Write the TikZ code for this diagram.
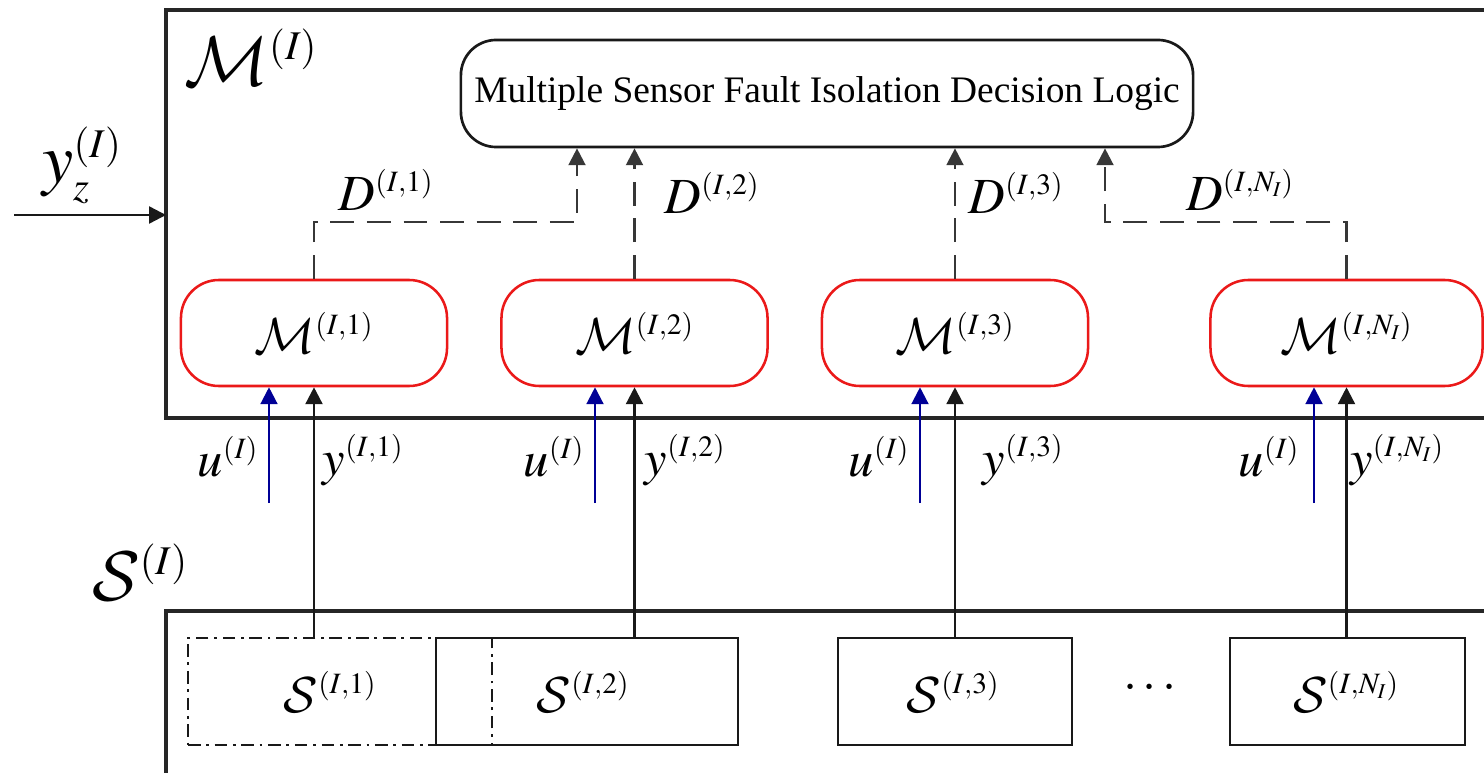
\RequirePackage{fix-cm}
\documentclass[tikz,border=0pt]{standalone}
\usepackage{mathptmx}
\usepackage[no-math]{fontspec}
\setmainfont{Liberation Serif}
\DeclareMathAlphabet{\mathcal}{OMS}{cmsy}{m}{n}
\DeclareMathSizes{36}{36}{21}{15}
\DeclareMathSizes{50}{50}{29}{21}
\usetikzlibrary{arrows.meta}
\definecolor{dred}{RGB}{235,25,25}
\definecolor{dblue}{RGB}{0,0,150}
\definecolor{dgray}{RGB}{55,55,55}
\newcommand\mfs{\fontsize{36}{40}\selectfont}
\newcommand\bfs{\fontsize{50}{56}\selectfont}
\newcommand\tfs{\fontsize{26.6}{30}\selectfont}
\tikzset{
  frame/.style={line width=2.2pt, draw=black!85},
  redbox/.style={draw=dred, line width=1.8pt, rounded corners=27pt, minimum width=6.65cm, minimum height=2.65cm, inner sep=0pt, font=\mfs},
  logicbox/.style={draw=black!90, line width=1.9pt, rounded corners=25pt, minimum width=18.3cm, minimum height=2.675cm, inner sep=0pt, font=\tfs},
  sbox/.style={draw=black!90, line width=1.8pt, minimum height=2.675cm, inner sep=0pt},
  sdash/.style={sbox, dash pattern=on 9pt off 4pt on 2pt off 4pt},
  lab/.style={inner sep=0pt, font=\mfs},
  biglab/.style={inner sep=0pt, font=\bfs},
  tip/.style={-{Triangle[length=12pt,width=12pt]}},
  yarrow/.style={tip, line width=1.7pt, draw=black!90},
  uarrow/.style={tip, line width=1.6pt, draw=dblue},
  darrow/.style={tip, line width=1.7pt, draw=dgray, dash pattern=on 17pt off 9pt},
}
\begin{document}
\begin{tikzpicture}[x=0.025cm, y=-0.025cm]
\useasboundingbox (0,0) rectangle (1484,773);
\fill[white] (0,0) rectangle (1484,773);
\clip (0,0) rectangle (1484,773);

% outer frames
\draw[frame] (1500,10) -- (166,10) -- (166,418) -- (1500,418);
\draw[frame] (1500,611) -- (166,611) -- (166,790);

\node[biglab] (MI) at (251,57) {$\mathcal{M}^{(I)}$};
\node[biglab] (SI) at (140,572) {$\mathcal{S}^{(I)}$};

% input y_z
\coordinate (yzs) at (14,215);
\coordinate (mIw) at (166,215);
\draw[yarrow] (yzs) -- (mIw);
\node[biglab] (yzlab) at (82,165) {$y_z^{(I)}$};

% decision logic
\node[logicbox] (DL) at (827,93.5) {Multiple Sensor Fault Isolation Decision Logic};

% red model boxes
\node[redbox] (M1) at (314,333) {$\mathcal{M}^{(I,1)}$};
\node[redbox] (M2) at (634.5,333) {$\mathcal{M}^{(I,2)}$};
\node[redbox] (M3) at (955,333) {$\mathcal{M}^{(I,3)}$};
\node[redbox, minimum width=6.8cm] (M4) at (1346.5,333) {$\mathcal{M}^{(I,N_I)}$};

% dashed decision arrows
\coordinate (d1) at (577,222);
\coordinate (d4) at (1105,222);
\draw[darrow] (M1.north) |- (d1) -- (d1 |- DL.south);
\draw[darrow] (M2.north) -- (M2.north |- DL.south);
\draw[darrow] (M3.north) -- (M3.north |- DL.south);
\draw[darrow] (M4.north) |- (d4) -- (d4 |- DL.south);
\node[lab] (D1) at (386,190) {$D^{(I,1)}$};
\node[lab] (D2) at (712,193) {$D^{(I,2)}$};
\node[lab] (D3) at (1016,193) {$D^{(I,3)}$};
\node[lab] (D4) at (1240,190) {$D^{(I,N_I)}$};

% sensor boxes
\node[sdash, minimum width=7.6cm] (S1) at (340,691.5) {};
\node[sbox, minimum width=7.55cm] (S2) at (587,691.5) {};
\node[sbox, minimum width=5.85cm] (S3) at (955,691.5) {};
\node[sbox, minimum width=5.875cm] (S4) at (1347.5,691.5) {};
\node[lab] (S1t) at (330,692) {$\mathcal{S}^{(I,1)}$};
\node[lab] (S2t) at (583,692) {$\mathcal{S}^{(I,2)}$};
\node[lab] (S3t) at (953,692) {$\mathcal{S}^{(I,3)}$};
\node[lab] (S4t) at (1346,692) {$\mathcal{S}^{(I,N_I)}$};
\node[lab] (dots) at (1150,688) {$\cdots$};

% measurement arrows
\draw[yarrow] (M1.south |- S1.north) -- (M1.south);
\draw[yarrow] (M2.south |- S2.north) -- (M2.south);
\draw[yarrow] (M3.south |- S3.north) -- (M3.south);
\draw[yarrow] (M4.south |- S4.north) -- (M4.south);

% input arrows
\coordinate (u1) at (269,503);
\coordinate (u2) at (595,503);
\coordinate (u3) at (920,503);
\coordinate (u4) at (1314,503);
\draw[uarrow] (u1) -- (u1 |- M1.south);
\draw[uarrow] (u2) -- (u2 |- M2.south);
\draw[uarrow] (u3) -- (u3 |- M3.south);
\draw[uarrow] (u4) -- (u4 |- M4.south);

\node[lab] (ul1) at (228,457) {$u^{(I)}$};
\node[lab] (ul2) at (554,457) {$u^{(I)}$};
\node[lab] (ul3) at (879,457) {$u^{(I)}$};
\node[lab] (ul4) at (1269,457) {$u^{(I)}$};
\node[lab] (yl1) at (363,460) {$y^{(I,1)}$};
\node[lab] (yl2) at (685,460) {$y^{(I,2)}$};
\node[lab] (yl3) at (1023,460) {$y^{(I,3)}$};
\node[lab] (yl4) at (1397,460) {$y^{(I,N_I)}$};
\end{tikzpicture}
\end{document}
